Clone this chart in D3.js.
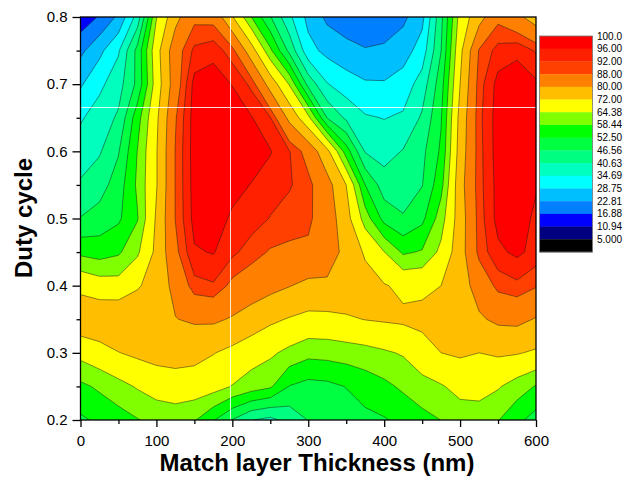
<!DOCTYPE html>
<html>
<head>
<meta charset="utf-8">
<script src="https://cdn.jsdelivr.net/npm/d3@7"></script>
<style>
  body { margin: 0; background: #fff; }
  text { font-family: "Liberation Sans", Arial, sans-serif; }
</style>
</head>
<body>
<div class="container"></div>
<script>
// grid positions (columns = thickness, rows = duty cycle from top to bottom)
const thickness = [0, 25, 50, 75, 100, 125, 150, 175, 200, 225, 250, 275, 300,
                   325, 350, 375, 400, 425, 450, 475, 500, 525, 550, 575, 600]
const dutyCycle = [0.8, 0.75, 0.7, 0.65, 0.6, 0.55, 0.5, 0.45, 0.4, 0.35, 0.3, 0.25, 0.2]

// values, one row per duty cycle
const dc080 = [13, 17.5, 24, 37, 64, 77.6, 86.5, 86, 72.5, 58.5, 47, 36, 27, 21.5, 19, 17.8, 18.5, 21.5, 27, 45, 67, 77, 86.5, 82, 76]
const dc075 = [21.4, 27.2, 34, 48.5, 69, 85, 93, 94.5, 89.7, 75.5, 59.7, 45, 30.8, 27, 25, 23.3, 24, 26, 31.5, 46.5, 70, 88.5, 93.5, 95, 91.5]
const dc070 = [28, 33.3, 38.2, 48, 67.7, 84.5, 97.5, 98.5, 95.8, 91, 76.7, 64, 44.6, 35, 31.5, 29.5, 29.3, 31.5, 37.3, 50, 72, 90.2, 97.5, 98.5, 96.8]
const dc065 = [34, 37.5, 41.5, 56, 70.5, 87.5, 98, 99.5, 99, 96.3, 92.2, 78, 66, 46.3, 39.5, 35.3, 34.5, 35.5, 41.5, 52, 74.5, 90.8, 98, 99.5, 98.5]
const dc060 = [37.5, 40, 46.1, 58.6, 71.5, 88.3, 98, 99.5, 99.5, 98.5, 96.3, 92.3, 85.5, 74, 55.5, 40.2, 38.2, 41, 45, 53.5, 75.5, 90.5, 98, 99.5, 98.5]
const dc055 = [41.4, 44, 49.5, 59.5, 71.5, 88.3, 97.8, 99.3, 98, 95.8, 94, 92.5, 89.5, 83, 72, 52.5, 43.5, 43, 46.3, 56.5, 77, 90.5, 97.5, 98.5, 96.5]
const dc050 = [46.8, 49, 51.5, 58, 73, 88.2, 97.5, 99, 95, 94, 91.8, 90, 89, 84.5, 75, 61.5, 50.5, 47.2, 51, 61.5, 76, 90, 97.5, 98.5, 95]
const dc045 = [57, 55.8, 57.5, 63.3, 73.8, 86.5, 95.5, 96.3, 93, 90, 87.5, 87, 87, 84, 77.7, 71, 64.5, 57.5, 59, 66, 76.5, 89.5, 95, 97, 94.5]
const dc040 = [70, 67.7, 67.2, 71, 76, 82, 90.5, 91.5, 86.5, 84.4, 82.4, 80.3, 78.1, 78.6, 77.6, 75, 72.5, 70.5, 70.5, 72, 76.5, 83.2, 89.5, 91, 88.5]
const dc035 = [77.5, 78, 78.5, 79, 79.5, 79.8, 81, 81.3, 79.3, 76.5, 73.4, 71.5, 70, 70, 71, 72.2, 72.8, 73.3, 74, 75.5, 77, 79, 81.5, 82, 79.5]
const dc030 = [66.5, 69, 71.8, 73.5, 75, 75.5, 74.5, 72.3, 70, 67.3, 65.5, 62.7, 60.2, 60.6, 61.3, 62.1, 63.5, 65, 68.8, 72, 73, 72, 73, 72.5, 71]
const dc025 = [57.1, 59.5, 62.2, 65, 67, 68, 68, 67, 64.1, 61.5, 59.3, 52.3, 50.5, 51, 52.7, 55, 57, 59.5, 62, 63.8, 66.5, 67, 65, 61.5, 58]
const dc020 = [51.5, 53.6, 55.8, 58.1, 60.5, 61, 59, 53, 46.3, 40.8, 39, 42.5, 46.8, 48.5, 49.5, 51, 52, 54, 56.5, 58.5, 61, 61, 58.7, 54, 50]

// contour levels and legend labels
const levels = [5, 10.94, 16.88, 22.81, 28.75, 34.69, 40.63, 46.56, 52.5, 58.44, 64.38, 72, 80, 88, 92, 96]
const levelLabels = ["5.000", "10.94", "16.88", "22.81", "28.75", "34.69", "40.63", "46.56",
                     "52.50", "58.44", "64.38", "72.00", "80.00", "88.00", "92.00", "96.00", "100.0"]
const bandColors = ["#000080", "#0000FF", "#0080FF", "#00BFFF", "#00FFFF", "#00FFBF", "#00FF80", "#00FF40",
                    "#00FF00", "#80FF00", "#FFFF00", "#FFBF00", "#FF8000", "#FF4000", "#FF2000", "#FF0000"]
const belowColor = "#000000"

const xTicks = [0, 100, 200, 300, 400, 500, 600]
const yTicks = [0.2, 0.3, 0.4, 0.5, 0.6, 0.7, 0.8]

const w = 634
const h = 477
const plotLeft = 80.5, plotRight = 536, plotTop = 17, plotBottom = 420

const grid = [dc080, dc075, dc070, dc065, dc060, dc055, dc050, dc045, dc040, dc035, dc030, dc025, dc020]
const values = [].concat(...grid)
const nx = thickness.length
const ny = dutyCycle.length

const xScale = d3.scaleLinear().domain([0, 600]).range([plotLeft, plotRight])
const yScale = d3.scaleLinear().domain([0.2, 0.8]).range([plotBottom, plotTop])

// grid coordinates from d3.contours -> pixels (sample i sits at i + 0.5)
const gx = d3.scaleLinear().domain([0.5, nx - 0.5]).range([xScale(thickness[0]), xScale(thickness[nx - 1])])
const gy = d3.scaleLinear().domain([0.5, ny - 0.5]).range([yScale(dutyCycle[0]), yScale(dutyCycle[ny - 1])])
const path = d3.geoPath(d3.geoTransform({
    point: function (x, y) { this.stream.point(gx(x), gy(y)) }
}))

const contours = d3.contours().size([nx, ny]).thresholds(levels)(values)

const svg = d3.select(".container")
              .append("svg")
              .attr("width", w)
              .attr("height", h)

svg.append("clipPath")
   .attr("id", "plot-clip")
   .append("rect")
   .attr("x", plotLeft)
   .attr("y", plotTop)
   .attr("width", plotRight - plotLeft)
   .attr("height", plotBottom - plotTop)

const plot = svg.append("g").attr("clip-path", "url(#plot-clip)")

plot.append("rect")
    .attr("x", plotLeft)
    .attr("y", plotTop)
    .attr("width", plotRight - plotLeft)
    .attr("height", plotBottom - plotTop)
    .style("fill", belowColor)

// filled bands
plot.selectAll("path.band")
    .data(contours)
    .enter()
    .append("path")
    .attr("class", "band")
    .attr("d", path)
    .style("fill", (d, i) => bandColors[i])
    .style("stroke", "none")

// contour lines on top
plot.selectAll("path.line")
    .data(contours)
    .enter()
    .append("path")
    .attr("class", "line")
    .attr("d", path)
    .style("fill", "none")
    .style("stroke", "#1a1a1a")
    .style("stroke-opacity", 0.7)
    .style("stroke-width", 0.7)

// the thin white cross lines seen in the picture
svg.append("line")
   .attr("x1", 230.5).attr("x2", 230.5)
   .attr("y1", plotTop).attr("y2", plotBottom)
   .style("stroke", "#fff").style("stroke-width", 1).style("opacity", 0.85)
svg.append("line")
   .attr("x1", plotLeft).attr("x2", 540)
   .attr("y1", 107.5).attr("y2", 107.5)
   .style("stroke", "#fff").style("stroke-width", 1).style("opacity", 0.85)

// frame
svg.append("rect")
   .attr("x", plotLeft)
   .attr("y", plotTop)
   .attr("width", plotRight - plotLeft)
   .attr("height", plotBottom - plotTop)
   .style("fill", "none")
   .style("stroke", "#000")
   .style("stroke-width", 1.3)

// axes
const xAxis = d3.axisBottom(xScale).tickValues(xTicks).tickSize(7).tickSizeOuter(0).tickPadding(8)
const xMinor = d3.axisBottom(xScale).tickValues([50, 150, 250, 350, 450, 550]).tickSize(4).tickFormat("").tickSizeOuter(0)
const yAxis = d3.axisLeft(yScale).tickValues(yTicks).tickSize(8).tickSizeOuter(0).tickPadding(5).tickFormat(d3.format(".1f"))
const yMinor = d3.axisLeft(yScale).tickValues([0.25, 0.35, 0.45, 0.55, 0.65, 0.75]).tickSize(4).tickFormat("").tickSizeOuter(0)

const gxA = svg.append("g").attr("id", "x-axis").attr("transform", `translate(0, ${plotBottom})`).call(xAxis)
svg.append("g").attr("transform", `translate(0, ${plotBottom})`).call(xMinor)
const gyA = svg.append("g").attr("id", "y-axis").attr("transform", `translate(${plotLeft}, 0)`).call(yAxis)
svg.append("g").attr("transform", `translate(${plotLeft}, 0)`).call(yMinor)

svg.selectAll(".domain").remove()
svg.selectAll(".tick line").style("stroke", "#000").style("stroke-width", 1.3)
gxA.selectAll("text").style("font-size", "15px").style("fill", "#000")
gyA.selectAll("text").style("font-size", "15px").style("fill", "#000")

// axis titles
svg.append("text")
   .attr("x", 317)
   .attr("y", 471)
   .attr("text-anchor", "middle")
   .style("font-size", "24px")
   .style("font-weight", "bold")
   .text("Match layer Thickness (nm)")

svg.append("text")
   .attr("transform", "translate(32, 218) rotate(-90)")
   .attr("text-anchor", "middle")
   .style("font-size", "24px")
   .style("font-weight", "bold")
   .text("Duty cycle")

// legend
const legTop = 36, legBottom = 252, legX = 539.5, legW = 53
const legendColors = [belowColor].concat(bandColors).reverse()
const boxH = (legBottom - legTop) / legendColors.length
const legend = svg.append("g")

legend.selectAll("rect")
      .data(legendColors)
      .enter()
      .append("rect")
      .attr("x", legX)
      .attr("y", (d, i) => legTop + i * boxH)
      .attr("width", legW)
      .attr("height", boxH + 0.3)
      .style("fill", d => d)

legend.append("rect")
      .attr("x", legX)
      .attr("y", legTop)
      .attr("width", legW)
      .attr("height", legBottom - legTop)
      .style("fill", "none")
      .style("stroke", "#777")
      .style("stroke-width", 0.8)

legend.selectAll("text")
      .data(levelLabels.slice().reverse())
      .enter()
      .append("text")
      .attr("x", 597)
      .attr("y", (d, i) => legTop + i * boxH)
      .attr("dy", "0.35em")
      .style("font-size", "10px")
      .style("fill", "#000")
      .text(d => d)
</script>
</body>
</html>
